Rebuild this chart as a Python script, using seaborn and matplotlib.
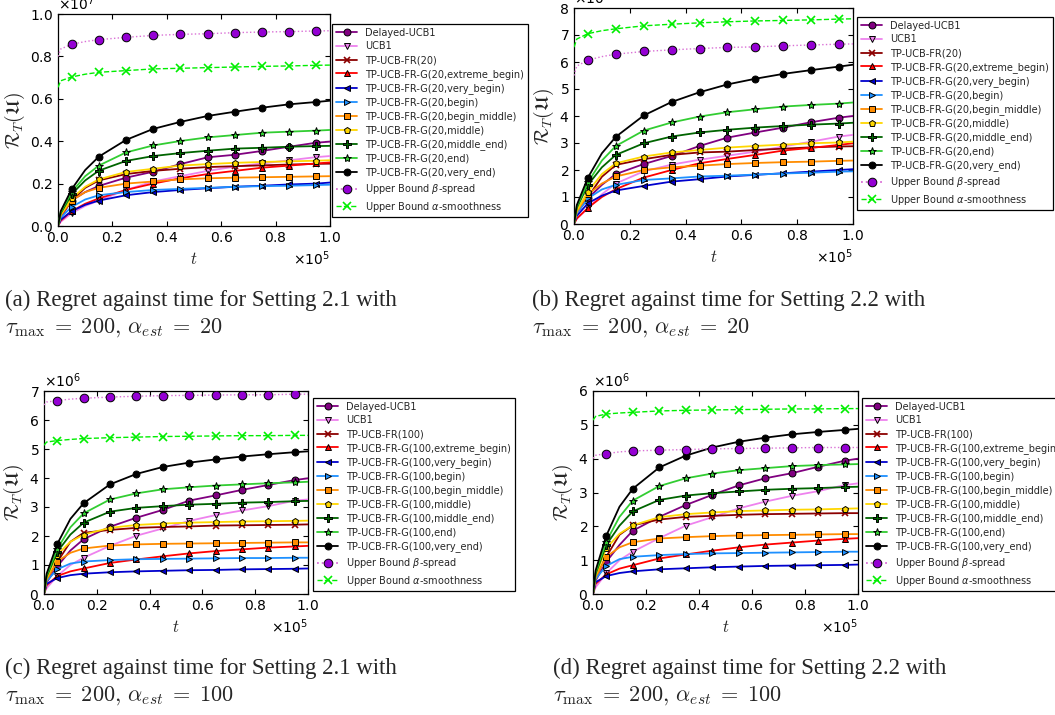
import numpy as np
import pandas as pd
import matplotlib
matplotlib.use("Agg")
import matplotlib.pyplot as plt
from matplotlib.lines import Line2D
from matplotlib.ticker import MultipleLocator
import seaborn as sns

# ---------------- data (t in units of 1e5) ----------------
T = [0, 0.01, 0.05, 0.1, 0.15, 0.25, 0.35, 0.45, 0.55, 0.65, 0.75, 0.85, 0.95, 1.0]
MARK_IDX = [2, 4, 5, 6, 7, 8, 9, 10, 11, 12]

# Panel (a) values in units of 1e7
A_DELAYED = [0, .04, .12, .16, .189, .228, .256, .292, .324, .336, .354, .374, .393, .398]
A_UCB1 = [0, .02, .06, .095, .12, .17, .21, .235, .26, .28, .295, .31, .325, .33]
A_FR = [0, .05, .12, .18, .215, .245, .26, .27, .278, .282, .286, .29, .293, .294]
A_EXT_BEGIN = [0, .025, .07, .105, .13, .17, .20, .225, .245, .26, .275, .285, .295, .30]
A_VERY_BEGIN = [0, .03, .07, .10, .12, .145, .16, .17, .178, .185, .19, .196, .20, .205]
A_BEGIN = [0, .04, .09, .125, .145, .16, .17, .175, .18, .185, .188, .19, .193, .195]
A_BEGIN_MIDDLE = [0, .05, .12, .16, .18, .20, .21, .22, .225, .228, .23, .232, .234, .235]
A_MIDDLE = [0, .055, .13, .185, .22, .255, .27, .285, .292, .298, .302, .305, .308, .31]
A_MIDDLE_END = [0, .06, .15, .215, .261, .307, .330, .344, .355, .365, .369, .374, .377, .378]
A_END = [0, .065, .16, .235, .285, .347, .380, .401, .418, .429, .440, .445, .450, .453]
A_VERY_END = [0, .07, .173, .264, .327, .406, .458, .491, .519, .539, .558, .574, .585, .591]
A_BETA = [.80, .835, .857, .87, .879, .890, .899, .904, .907, .912, .915, .917, .920, .921]
A_ALPHA = [.654, .685, .703, .716, .725, .733, .741, .744, .747, .750, .753, .755, .758, .759]

# Panel (b) values in units of 1e6
B_DELAYED = [0, .4, .95, 1.45, 1.85, 2.22, 2.52, 2.89, 3.20, 3.39, 3.57, 3.77, 3.94, 4.00]
B_UCB1 = [0, .2, .58, 1.1, 1.5, 1.95, 2.2, 2.38, 2.53, 2.68, 2.87, 3.05, 3.24, 3.30]
B_FR = [0, .45, 1.0, 1.75, 2.19, 2.40, 2.56, 2.65, 2.68, 2.74, 2.79, 2.84, 2.87, 2.88]
B_EXT_BEGIN = [0, .2, .6, 1.0, 1.29, 1.72, 2.00, 2.25, 2.41, 2.56, 2.72, 2.82, 2.93, 2.99]
B_VERY_BEGIN = [0, .3, .77, 1.05, 1.24, 1.41, 1.57, 1.66, 1.76, 1.82, 1.88, 1.94, 2.00, 2.03]
B_BEGIN = [0, .4, .95, 1.28, 1.45, 1.63, 1.69, 1.76, 1.79, 1.83, 1.87, 1.90, 1.94, 1.95]
B_BEGIN_MIDDLE = [0, .45, 1.1, 1.5, 1.76, 2.00, 2.10, 2.16, 2.22, 2.26, 2.29, 2.31, 2.34, 2.35]
B_MIDDLE = [0, .5, 1.2, 1.85, 2.25, 2.50, 2.65, 2.74, 2.83, 2.89, 2.94, 2.99, 3.02, 3.05]
B_MIDDLE_END = [0, .6, 1.45, 2.1, 2.56, 2.99, 3.24, 3.39, 3.49, 3.57, 3.63, 3.68, 3.72, 3.75]
B_END = [0, .65, 1.55, 2.35, 2.89, 3.46, 3.76, 3.98, 4.14, 4.25, 4.35, 4.41, 4.46, 4.50]
B_VERY_END = [0, .7, 1.72, 2.62, 3.23, 4.02, 4.52, 4.88, 5.17, 5.38, 5.56, 5.70, 5.83, 5.90]
B_BETA = [5.5, 5.85, 6.07, 6.2, 6.29, 6.39, 6.45, 6.50, 6.54, 6.56, 6.60, 6.63, 6.66, 6.67]
B_ALPHA = [6.55, 6.85, 7.05, 7.16, 7.23, 7.34, 7.40, 7.45, 7.49, 7.52, 7.54, 7.56, 7.59, 7.60]

# Panel (c) values in units of 1e6
C_DELAYED = [0, .4, .95, 1.5, 1.89, 2.32, 2.63, 2.90, 3.22, 3.40, 3.59, 3.76, 3.93, 3.99]
C_UCB1 = [0, .2, .62, 1.0, 1.25, 1.66, 2.01, 2.26, 2.52, 2.72, 2.88, 3.03, 3.22, 3.26]
C_FR = [0, .5, 1.1, 1.8, 2.11, 2.21, 2.28, 2.31, 2.33, 2.36, 2.37, 2.38, 2.39, 2.40]
C_EXT_BEGIN = [0, .3, .62, .78, .88, 1.07, 1.19, 1.30, 1.40, 1.48, 1.54, 1.60, 1.64, 1.66]
C_VERY_BEGIN = [0, .35, .55, .65, .70, .75, .78, .80, .82, .83, .85, .86, .87, .88]
C_BEGIN = [0, .45, .85, 1.05, 1.12, 1.17, 1.20, 1.21, 1.22, 1.23, 1.24, 1.24, 1.25, 1.25]
C_BEGIN_MIDDLE = [0, .5, 1.12, 1.42, 1.57, 1.67, 1.71, 1.73, 1.74, 1.75, 1.76, 1.77, 1.78, 1.78]
C_MIDDLE = [0, .55, 1.35, 1.8, 2.05, 2.28, 2.38, 2.43, 2.46, 2.48, 2.50, 2.51, 2.52, 2.53]
C_MIDDLE_END = [0, .6, 1.45, 2.05, 2.46, 2.84, 2.97, 3.03, 3.08, 3.11, 3.15, 3.17, 3.20, 3.21]
C_END = [0, .65, 1.55, 2.3, 2.78, 3.26, 3.47, 3.61, 3.68, 3.74, 3.78, 3.82, 3.85, 3.87]
C_VERY_END = [0, .7, 1.72, 2.59, 3.13, 3.78, 4.14, 4.38, 4.53, 4.64, 4.74, 4.82, 4.89, 4.92]
C_BETA = [6.52, 6.62, 6.67, 6.72, 6.75, 6.79, 6.82, 6.84, 6.85, 6.86, 6.87, 6.87, 6.89, 6.89]
C_ALPHA = [5.13, 5.24, 5.29, 5.33, 5.36, 5.39, 5.41, 5.43, 5.44, 5.45, 5.46, 5.46, 5.47, 5.47]

# Panel (d) values in units of 1e6
D_DELAYED = [0, .4, .95, 1.45, 1.87, 2.28, 2.63, 2.93, 3.21, 3.42, 3.57, 3.76, 3.94, 4.00]
D_UCB1 = [0, .2, .61, 1.0, 1.25, 1.65, 2.02, 2.27, 2.53, 2.73, 2.90, 3.04, 3.22, 3.27]
D_FR = [0, .5, 1.1, 1.75, 2.03, 2.20, 2.28, 2.31, 2.34, 2.36, 2.37, 2.38, 2.39, 2.39]
D_EXT_BEGIN = [0, .3, .58, .75, .85, 1.05, 1.17, 1.28, 1.38, 1.46, 1.52, 1.58, 1.63, 1.65]
D_VERY_BEGIN = [0, .35, .53, .62, .67, .73, .76, .79, .81, .83, .84, .85, .86, .87]
D_BEGIN = [0, .45, .83, 1.03, 1.10, 1.15, 1.18, 1.20, 1.21, 1.22, 1.23, 1.24, 1.25, 1.25]
D_BEGIN_MIDDLE = [0, .5, 1.10, 1.38, 1.53, 1.64, 1.68, 1.71, 1.73, 1.74, 1.75, 1.76, 1.77, 1.77]
D_MIDDLE = [0, .55, 1.35, 1.78, 2.03, 2.27, 2.36, 2.41, 2.45, 2.47, 2.49, 2.50, 2.52, 2.53]
D_MIDDLE_END = [0, .6, 1.45, 2.02, 2.44, 2.78, 2.91, 2.98, 3.03, 3.08, 3.11, 3.13, 3.16, 3.17]
D_END = [0, .65, 1.55, 2.28, 2.76, 3.19, 3.42, 3.56, 3.66, 3.72, 3.78, 3.81, 3.83, 3.84]
D_VERY_END = [0, .7, 1.72, 2.58, 3.11, 3.74, 4.09, 4.33, 4.50, 4.62, 4.72, 4.79, 4.85, 4.88]
D_BETA = [4.01, 4.1, 4.15, 4.2, 4.23, 4.25, 4.27, 4.29, 4.30, 4.31, 4.32, 4.33, 4.33, 4.33]
D_ALPHA = [5.14, 5.25, 5.32, 5.35, 5.37, 5.41, 5.43, 5.44, 5.45, 5.46, 5.47, 5.47, 5.48, 5.48]

SERIES_KEYS = ["Delayed-UCB1", "UCB1", "TP-UCB-FR({a})",
               "TP-UCB-FR-G({a},extreme_begin)", "TP-UCB-FR-G({a},very_begin)",
               "TP-UCB-FR-G({a},begin)", "TP-UCB-FR-G({a},begin_middle)",
               "TP-UCB-FR-G({a},middle)", "TP-UCB-FR-G({a},middle_end)",
               "TP-UCB-FR-G({a},end)", "TP-UCB-FR-G({a},very_end)",
               r"Upper Bound $\beta$-spread", r"Upper Bound $\alpha$-smoothness"]

PANELS = [
    dict(tag="a", alpha_est=20, setting="2.1", scale=1e7, ymax=1.0, ystep=0.2,
         data=[A_DELAYED, A_UCB1, A_FR, A_EXT_BEGIN, A_VERY_BEGIN, A_BEGIN, A_BEGIN_MIDDLE,
               A_MIDDLE, A_MIDDLE_END, A_END, A_VERY_END, A_BETA, A_ALPHA]),
    dict(tag="b", alpha_est=20, setting="2.2", scale=1e6, ymax=8, ystep=1,
         data=[B_DELAYED, B_UCB1, B_FR, B_EXT_BEGIN, B_VERY_BEGIN, B_BEGIN, B_BEGIN_MIDDLE,
               B_MIDDLE, B_MIDDLE_END, B_END, B_VERY_END, B_BETA, B_ALPHA]),
    dict(tag="c", alpha_est=100, setting="2.1", scale=1e6, ymax=7, ystep=1,
         data=[C_DELAYED, C_UCB1, C_FR, C_EXT_BEGIN, C_VERY_BEGIN, C_BEGIN, C_BEGIN_MIDDLE,
               C_MIDDLE, C_MIDDLE_END, C_END, C_VERY_END, C_BETA, C_ALPHA]),
    dict(tag="d", alpha_est=100, setting="2.2", scale=1e6, ymax=6, ystep=1,
         data=[D_DELAYED, D_UCB1, D_FR, D_EXT_BEGIN, D_VERY_BEGIN, D_BEGIN, D_BEGIN_MIDDLE,
               D_MIDDLE, D_MIDDLE_END, D_END, D_VERY_END, D_BETA, D_ALPHA]),
]

# ---------------- styles ----------------
STYLES = [
    dict(color="#800080", marker="o", mfc="#800080", ls="-", ms=5),
    dict(color="#EE82EE", marker="v", mfc="#EE82EE", ls="-", ms=5),
    dict(color="#8B0000", marker="x", mfc="#8B0000", ls="-", ms=5),
    dict(color="#FF0000", marker="^", mfc="#FF0000", ls="-", ms=4.5),
    dict(color="#0000CD", marker="<", mfc="#0000CD", ls="-", ms=5),
    dict(color="#1E90FF", marker=">", mfc="#1E90FF", ls="-", ms=5),
    dict(color="#FF8C00", marker="s", mfc="#FF8C00", ls="-", ms=4.5),
    dict(color="#FFD700", marker="p", mfc="#FFD700", ls="-", ms=5),
    dict(color="#006400", marker="P", mfc="#006400", ls="-", ms=5.5),
    dict(color="#32CD32", marker="*", mfc="#32CD32", ls="-", ms=6),
    dict(color="#000000", marker="o", mfc="#000000", ls="-", ms=5),
    dict(color="#DA70D6", marker="o", mfc="#9400D3", ls=":", ms=6.2),
    dict(color="#00EE00", marker="x", mfc="#00EE00", ls="--", ms=5.5),
]

sns.set_style("ticks")
plt.rcParams["font.family"] = ["DejaVu Sans"]
plt.rcParams.update({
    "xtick.direction": "in", "ytick.direction": "in",
    "xtick.top": True, "ytick.right": True,
    "xtick.major.size": 3.5, "ytick.major.size": 3.5,
    "xtick.color": "black", "ytick.color": "black",
    "axes.edgecolor": "black", "axes.linewidth": 0.9,
    "mathtext.fontset": "dejavusans",
    "axes.formatter.use_mathtext": True,
    "xtick.labelsize": 10, "ytick.labelsize": 10,
})

W, H = 1055, 715
fig = plt.figure(figsize=(W / 100, H / 100), dpi=100)

AX_BOX = {  # left, top, right, bottom in pixels
    "a": (58, 14, 330, 226), "b": (574, 8, 853, 224),
    "c": (44, 391, 308, 594), "d": (593, 391, 858, 594),
}
LEG_POS = {"a": (332, 24), "b": (857, 17), "c": (313, 398), "d": (862, 398)}
CAP_POS = {"a": (5, 306), "b": (532, 306), "c": (5, 674), "d": (553, 674)}

t_vals = np.array(T) * 1e5

for p in PANELS:
    l, t, r, b = AX_BOX[p["tag"]]
    ax = fig.add_axes([l / W, 1 - b / H, (r - l) / W, (b - t) / H])
    handles = []
    for key, vals, st in zip(SERIES_KEYS, p["data"], STYLES):
        label = key.format(a=p["alpha_est"])
        df = pd.DataFrame({"t": t_vals, "R": np.array(vals) * p["scale"]})
        is_x = st["marker"] == "x"
        mec = st["mfc"] if is_x else "black"
        lw = 1.0 if st["ls"] != "-" else 1.3
        sns.lineplot(data=df, x="t", y="R", ax=ax, color=st["color"], linestyle=st["ls"],
                     linewidth=lw, marker=st["marker"], markersize=st["ms"],
                     markerfacecolor=st["mfc"], markeredgecolor=mec,
                     markeredgewidth=1.2 if is_x else 0.7,
                     markevery=MARK_IDX, legend=False, zorder=3)
        handles.append(Line2D([], [], color=st["color"], linestyle=st["ls"],
                              linewidth=1.3 if st["ls"] == ":" else lw,
                              marker=st["marker"], markersize=st["ms"],
                              markerfacecolor=st["mfc"], markeredgecolor=mec,
                              markeredgewidth=1.2 if is_x else 0.7, label=label))
    ax.set_xlim(0, 1e5)
    ax.set_ylim(0, p["ymax"] * p["scale"])
    ax.xaxis.set_major_locator(MultipleLocator(0.2e5))
    ax.yaxis.set_major_locator(MultipleLocator(p["ystep"] * p["scale"]))
    ax.ticklabel_format(style="sci", axis="both", scilimits=(0, 0), useMathText=True)
    ax.xaxis.get_offset_text().set_fontsize(10)
    ax.yaxis.get_offset_text().set_fontsize(10)
    ax.set_xlabel("$t$", fontsize=12, math_fontfamily="cm", labelpad=4)
    ax.set_ylabel(r"$\mathcal{R}_T(\mathfrak{U})$", fontsize=14, math_fontfamily="cm", labelpad=2)
    ax.grid(False)

    lx, ly = LEG_POS[p["tag"]]
    leg = ax.legend(handles=handles, loc="upper left", bbox_to_anchor=(lx / W, 1 - ly / H),
                    bbox_transform=fig.transFigure, borderaxespad=0, fontsize=7,
                    frameon=True, fancybox=False, framealpha=1, edgecolor="black",
                    handlelength=2.2, handletextpad=0.8, labelspacing=0.37,
                    borderpad=0.4, numpoints=1)
    leg.get_frame().set_linewidth(0.9)

    cx, cy = CAP_POS[p["tag"]]
    fig.text(cx / W, 1 - cy / H,
             f"({p['tag']}) Regret against time for Setting {p['setting']} with",
             fontsize=16.5, family="Liberation Serif", va="baseline", ha="left")
    fig.text(cx / W, 1 - (cy + 27) / H,
             r"$\tau_{\max}\;=\;200,\,\alpha_{est}\;=\;%d$" % p["alpha_est"],
             fontsize=16, math_fontfamily="cm", va="baseline", ha="left")

fig.savefig("out.png", dpi=100)
